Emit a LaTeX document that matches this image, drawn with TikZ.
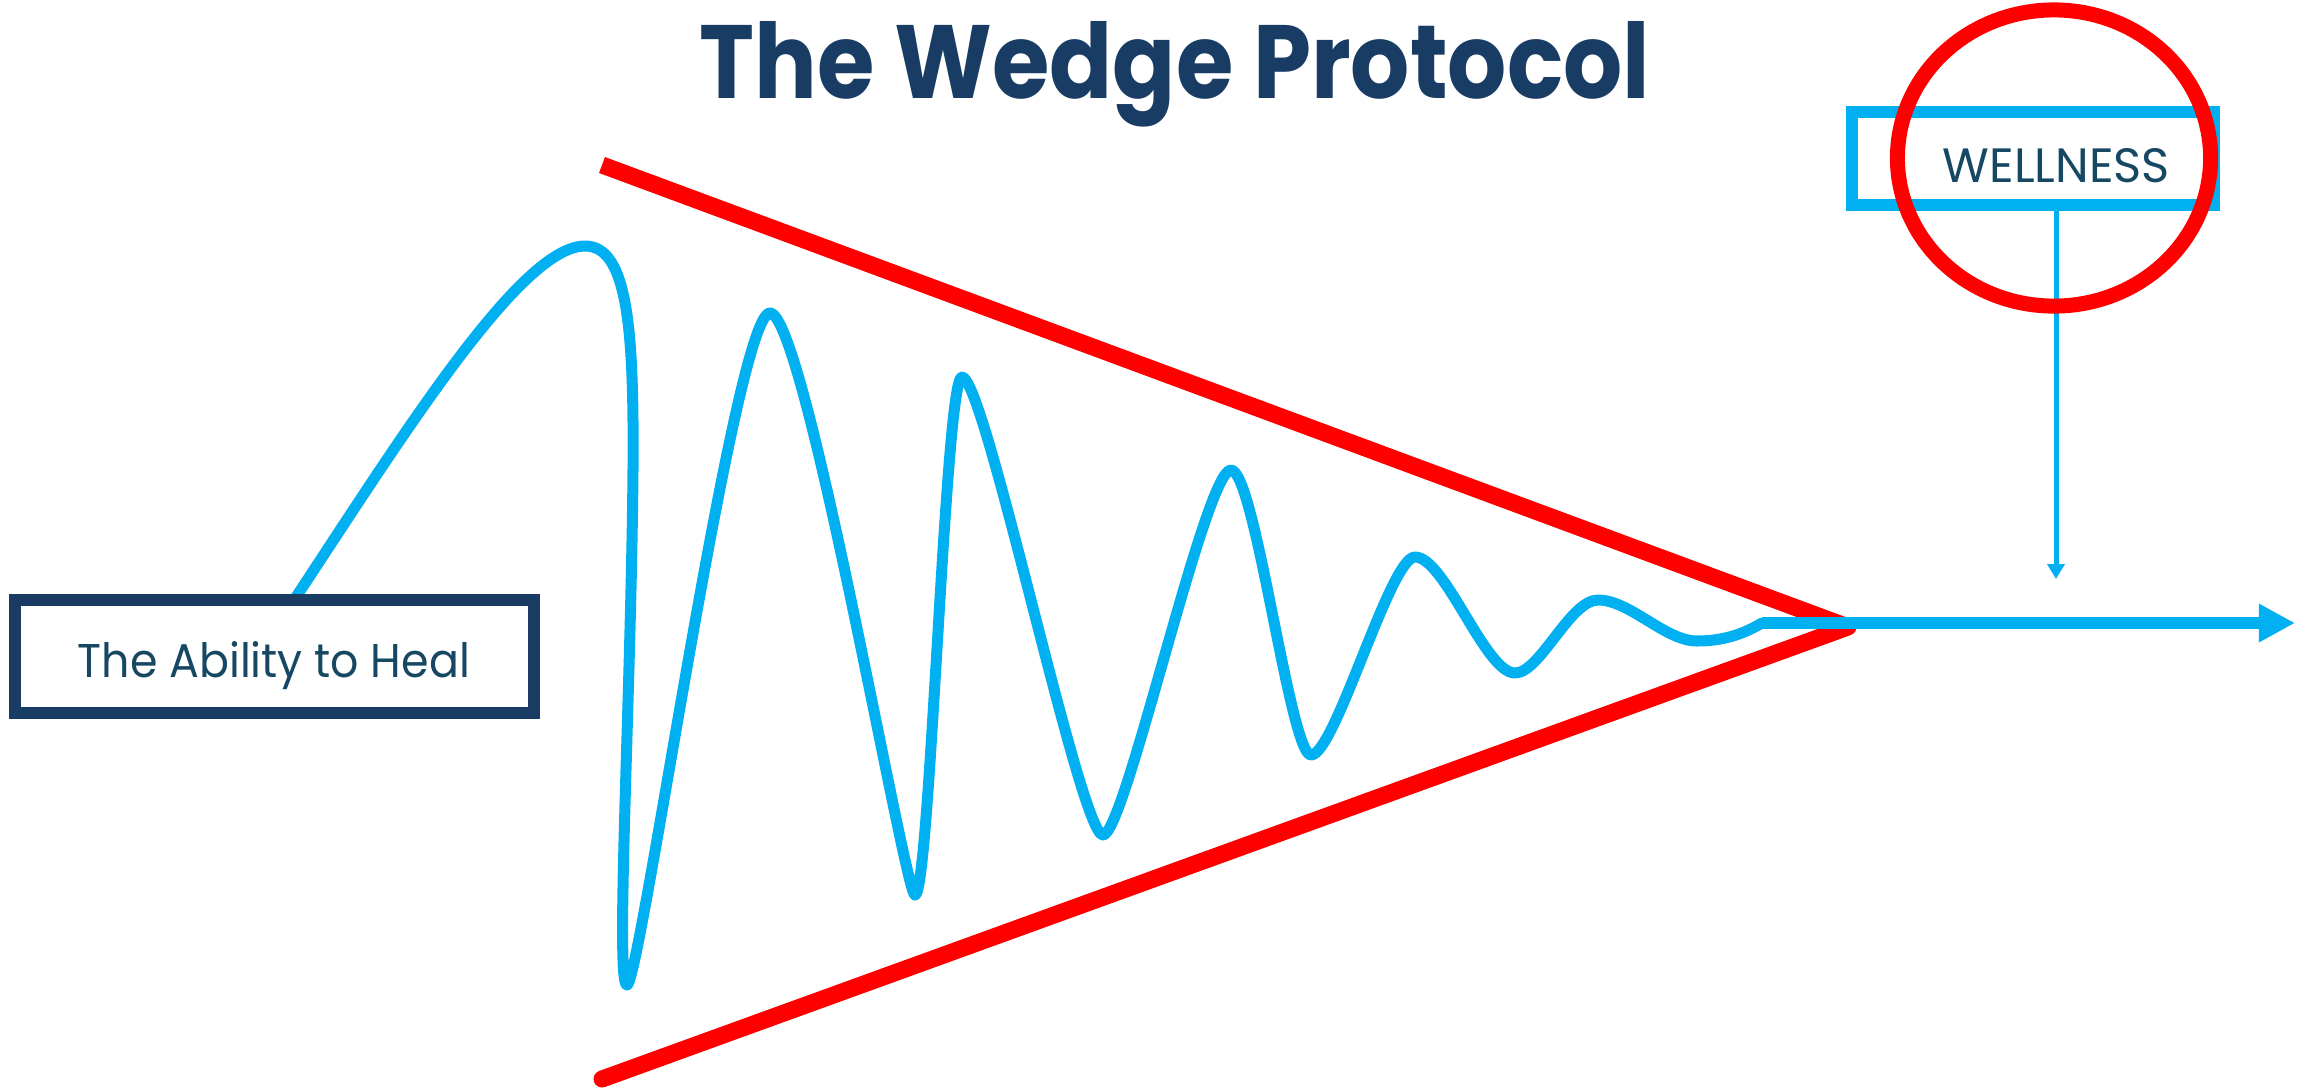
\documentclass[tikz,border=0pt]{standalone}
\usepackage{fontspec}
\setmainfont{Poppins}
\usepackage{graphicx}
\usetikzlibrary{arrows.meta}
\definecolor{navy}{RGB}{24,60,99}
\definecolor{labelc}{RGB}{23,72,99}
\definecolor{wblue}{RGB}{0,176,240}
\definecolor{wred}{RGB}{255,0,0}
\begin{document}
\begin{tikzpicture}[x=0.01cm,y=-0.01cm,
  wave/.style={wblue, line width=0.11cm, line cap=round, line join=round},
  wedge/.style={wred, line width=0.17cm},
  boxframe/.style={draw, line width=0.12cm, fill=white, inner sep=0pt},
  lbl/.style={inner sep=0pt, anchor=base west, text=labelc}]
\useasboundingbox[fill=white] (0,0) rectangle (2308,1087);

% wedge
\coordinate (wtopL) at (602,165);
\coordinate (apex) at (1848,627);
\coordinate (wbotL) at (602,1079);
\draw[wedge] (wtopL) -- (apex);
\draw[wedge, line cap=round] (wbotL) -- (apex);

% wave
\coordinate (wstart) at (294,600);
\coordinate (join) at (1762,623);
\coordinate (aend) at (2295,623);
\draw[wave] (wstart) .. controls (400,440) and (520,246) .. (585,246)
 .. controls (628,246) and (634,330) .. (633,470)
 .. controls (631,700) and (615,985) .. (627,985)
 .. controls (640,985) and (735,313) .. (770,313)
 .. controls (805,313) and (905,895) .. (915,895)
 .. controls (930,895) and (945,377) .. (962,377)
 .. controls (985,377) and (1080,835) .. (1103,835)
 .. controls (1125,835) and (1205,470) .. (1231,470)
 .. controls (1255,470) and (1290,755) .. (1311,755)
 .. controls (1335,755) and (1390,557) .. (1415,557)
 .. controls (1445,557) and (1485,673) .. (1515,673)
 .. controls (1540,673) and (1570,600) .. (1598,600)
 .. controls (1630,600) and (1665,641) .. (1697,641)
 .. controls (1725,641) and (1745,633) .. (join);
\draw[wblue, line width=0.117cm, -{Triangle[length=0.36cm,width=0.36cm]}] (join) -- (aend);

% ability box
\node[boxframe, draw=navy, minimum width=5.19cm, minimum height=1.13cm] (healbox) at (274.5,656.5) {};
\node[lbl] (healtxt) at (77,677) {\resizebox{3.92cm}{0.36cm}{The Ability to Heal}};

% wellness box
\node[boxframe, draw=wblue, minimum width=3.62cm, minimum height=0.93cm] (wellbox) at (2033,158.5) {};
\node[lbl] (welltxt) at (1942,182) {\resizebox{2.27cm}{0.34cm}{WELLNESS}};
\coordinate (wtip) at (2056,579);
\draw[wblue, line width=0.05cm, -{Triangle[length=0.15cm,width=0.17cm]}] (wellbox.south -| wtip) -- (wtip);
\draw[wred, line width=0.15cm] (2054,158) ellipse [x radius=1.565cm, y radius=1.48cm];

% title
\node[inner sep=0pt, anchor=base west, text=navy] (title) at (699,98) {\resizebox{9.5cm}{0.77cm}{\bfseries The Wedge Protocol}};
\end{tikzpicture}
\end{document}
